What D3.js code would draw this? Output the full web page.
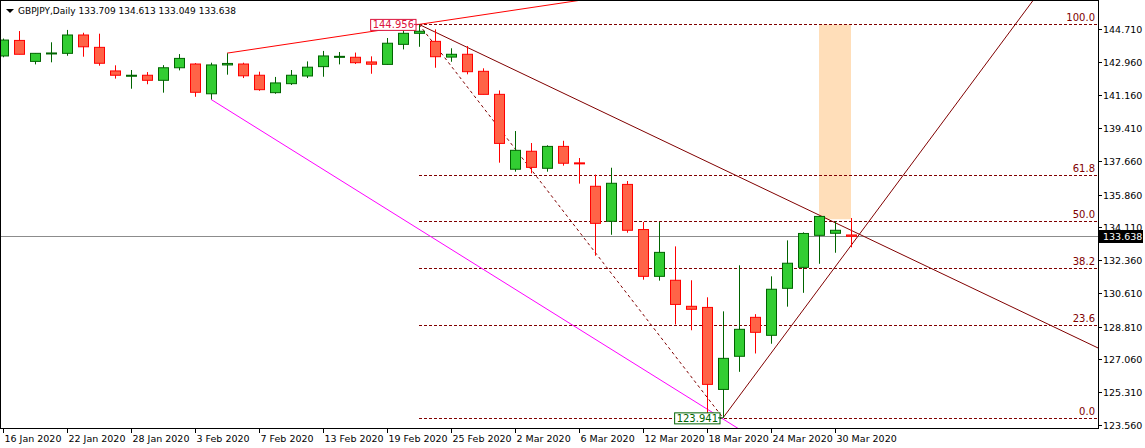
<!DOCTYPE html>
<html><head><meta charset="utf-8">
<script src="https://cdn.jsdelivr.net/npm/d3@7"></script>
<style>body{margin:0;background:#fff}svg{display:block}text{font-family:"DejaVu Sans",sans-serif}</style>
</head><body><svg id="c" width="1145" height="448"></svg>
<script>
const dates=["16 Jan","17 Jan","20 Jan","21 Jan","22 Jan","23 Jan","24 Jan","27 Jan","28 Jan","29 Jan","30 Jan","31 Jan",
"3 Feb","4 Feb","5 Feb","6 Feb","7 Feb","10 Feb","11 Feb","12 Feb","13 Feb","14 Feb","17 Feb","18 Feb","19 Feb","20 Feb","21 Feb","24 Feb","25 Feb","26 Feb","27 Feb","28 Feb",
"2 Mar","3 Mar","4 Mar","5 Mar","6 Mar","9 Mar","10 Mar","11 Mar","12 Mar","13 Mar","16 Mar","17 Mar","18 Mar","19 Mar","20 Mar","23 Mar","24 Mar","25 Mar","26 Mar","27 Mar","30 Mar","31 Mar"];
const open =[143.27,144.10,142.98,143.40,143.41,144.39,143.73,142.47,142.24,142.24,141.97,142.64,142.84,141.25,142.79,142.84,142.24,141.31,141.79,142.20,142.70,143.20,143.20,142.95,142.82,143.89,144.48,144.05,143.21,143.36,142.45,141.22,137.22,138.18,137.27,138.44,137.56,136.31,134.44,136.41,134.00,131.50,131.29,129.90,129.84,125.46,127.23,129.31,128.35,130.86,131.98,133.69,133.80,133.709];
const high =[144.20,144.60,143.41,144.00,144.66,144.51,144.46,142.77,142.52,142.41,142.78,143.37,142.89,142.91,143.41,142.91,142.43,142.15,142.52,142.98,143.54,143.48,143.45,143.25,144.23,144.69,144.956,144.69,143.68,143.80,142.61,141.43,139.26,138.62,138.50,138.74,137.82,136.93,137.30,136.59,134.40,134.40,133.10,131.29,130.38,129.63,132.09,129.48,131.50,133.42,133.85,134.72,134.44,134.613];
const low  =[143.20,143.36,142.82,142.93,143.28,143.23,142.75,142.06,141.52,141.76,141.31,142.50,141.09,140.95,142.27,142.09,141.41,141.25,141.72,142.09,142.16,142.82,142.84,142.32,142.80,143.62,143.76,142.64,142.96,142.29,141.22,137.57,137.09,137.00,137.09,137.41,136.45,132.60,133.72,133.83,131.32,131.27,128.93,128.62,123.98,123.941,126.40,127.38,127.90,129.88,130.62,132.17,132.76,133.049];
const close=[144.12,143.36,143.41,143.43,144.39,143.76,142.88,142.24,142.24,141.97,142.64,143.14,141.33,142.79,142.87,142.21,141.47,141.83,142.24,142.67,143.27,143.25,142.91,142.83,143.95,144.48,144.59,143.23,143.36,142.43,141.22,138.60,138.23,137.32,138.44,137.54,137.51,134.33,136.47,133.96,131.50,132.78,130.00,129.74,125.73,127.12,128.67,128.51,130.81,132.20,133.79,134.70,133.96,133.638];
const priceTicks=[144.710,142.960,141.160,139.410,137.660,135.860,134.110,132.360,130.610,128.810,127.060,125.310,123.560];
const dateTicks=[0,4,8,12,16,20,24,28,32,36,40,44,48,52];
const fibHigh=144.956, fibLow=123.941, fibStart=26;
const fibLevels=[100.0,61.8,50.0,38.2,23.6,0.0];
const lastPrice=133.638;
const redRay=[[14,143.42],[26,144.956]];
const magentaLine=[[13,140.95],[45.9,123.40]];
const fanLine=[[26,144.956],[68.4,127.69]];
const dashedLine=[[26,144.956],[45,123.941]];
const riseLine=[[45,123.941],[64.4,146.26]];
const zone={i0:51,i1:53,top:144.956,bottom:134.55};

const svg=d3.select("#c");
const W=1098,H=428;
const x=d3.scaleLinear().domain([0,1]).range([3,19]);
const y=d3.scaleLinear().domain([123.56,144.71]).range([425,29]);
const plot=svg.append("g");
svg.append("defs").append("clipPath").attr("id","cp").append("rect").attr("x",0).attr("y",0).attr("width",W).attr("height",H);
plot.attr("clip-path","url(#cp)");

plot.append("rect").attr("x",x(zone.i0)).attr("width",x(zone.i1)-x(zone.i0)).attr("y",y(zone.top)).attr("height",y(zone.bottom)-y(zone.top)).attr("fill","#FFDEB9");
fibLevels.forEach(l=>{const p=fibLow+(fibHigh-fibLow)*l/100;
 plot.append("line").attr("x1",x(fibStart)).attr("x2",W).attr("y1",Math.round(y(p))+.5).attr("y2",Math.round(y(p))+.5).attr("stroke","#800000").attr("stroke-dasharray","3,2");
 svg.append("text").attr("x",W-3).attr("y",Math.round(y(p))-3).attr("text-anchor","end").attr("font-size",10).attr("fill","#800000").text(l.toFixed(1));});
plot.append("line").attr("x1",0).attr("x2",W).attr("y1",Math.round(y(lastPrice))+.5).attr("y2",Math.round(y(lastPrice))+.5).attr("stroke","#8C8C8C");
const ln=(pts,ext)=>{const [a,b]=pts;let x1=x(a[0]),y1=y(a[1]),x2=x(b[0]),y2=y(b[1]);
 if(ext){const t=3000;const dx=x2-x1,dy=y2-y1,L=Math.hypot(dx,dy);x2=x1+dx/L*t;y2=y1+dy/L*t;}return [x1,y1,x2,y2];};
const drawLn=(pts,col,ext,dash)=>{const c=ln(pts,ext);plot.append("line").attr("x1",c[0]).attr("y1",c[1]).attr("x2",c[2]).attr("y2",c[3]).attr("stroke",col).attr("stroke-width",1).attr("stroke-dasharray",dash||null);};
drawLn(magentaLine,"#FF00FF",true);
drawLn(fanLine,"#800000",true);
drawLn(dashedLine,"#800000",false,"3,3");
drawLn(riseLine,"#800000",true);
drawLn(redRay,"#FF0000",true);

const g=plot.append("g");
dates.forEach((d,i)=>{const up=close[i]>=open[i];const cx=Math.round(x(i))+.5;
 const col=up?"#006400":"#FF0000",fill=up?"#32CD32":"#FF6347";
 g.append("line").attr("x1",cx).attr("x2",cx).attr("y1",y(high[i])).attr("y2",y(low[i])).attr("stroke",col);
 const t=y(Math.max(open[i],close[i])),b=y(Math.min(open[i],close[i]));
 g.append("rect").attr("x",cx-5).attr("width",10).attr("y",t).attr("height",Math.max(1,b-t)).attr("fill",fill).attr("stroke",col);});

const lab=(txt,i,p,col,dy)=>{const gg=svg.append("g");const t=gg.append("text").attr("x",x(i)-5).attr("y",y(p)+dy).attr("text-anchor","end").attr("font-size",10).attr("fill",col).text(txt);
 const bb=t.node().getBBox();gg.insert("rect","text").attr("x",bb.x-2).attr("y",bb.y).attr("width",bb.width+4).attr("height",bb.height).attr("fill","#fff").attr("stroke",col);
 gg.append("line").attr("x1",x(i)-5).attr("x2",x(i)).attr("y1",y(p)).attr("y2",y(p)).attr("stroke",col);};
lab("144.956",26,fibHigh,"#DC143C",4);
lab("123.941",45,fibLow,"#006400",4);

svg.append("line").attr("x1",W+.5).attr("x2",W+.5).attr("y1",0).attr("y2",H).attr("stroke","#000");
svg.append("line").attr("x1",0).attr("x2",W+1).attr("y1",H+.5).attr("y2",H+.5).attr("stroke","#000");
svg.append("line").attr("x1",.5).attr("x2",.5).attr("y1",0).attr("y2",H).attr("stroke","#000");
svg.append("line").attr("x1",0).attr("x2",W).attr("y1",.5).attr("y2",.5).attr("stroke","#000");
priceTicks.forEach(p=>{const yy=Math.round(y(p))+.5;
 svg.append("line").attr("x1",W).attr("x2",W+4).attr("y1",yy).attr("y2",yy).attr("stroke","#000");
 svg.append("text").attr("x",W+5).attr("y",yy+3.5).attr("font-size",9.5).attr("fill","#000").text(p.toFixed(3));});
const ly=Math.round(y(lastPrice));
svg.append("rect").attr("x",W+1).attr("y",ly-6).attr("width",44).attr("height",13).attr("fill","#000");
svg.append("text").attr("x",W+5).attr("y",ly+4).attr("font-size",9.5).attr("fill","#fff").text(lastPrice.toFixed(3));
dateTicks.forEach(i=>{const xx=Math.round(x(i))+.5;
 svg.append("line").attr("x1",xx).attr("x2",xx).attr("y1",H).attr("y2",H+5).attr("stroke","#000");
 svg.append("text").attr("x",xx+1).attr("y",H+14).attr("font-size",9.5).attr("fill","#000").text(dates[i]+" 2020");});
svg.append("path").attr("d","M6,9 L14,9 L10,13 Z").attr("fill","#000");
svg.append("text").attr("x",18).attr("y",14).attr("font-size",9).attr("fill","#000").text("GBPJPY,Daily "+[open[53],high[53],low[53],close[53]].map(v=>v.toFixed(3)).join(" "));
</script></body></html>
